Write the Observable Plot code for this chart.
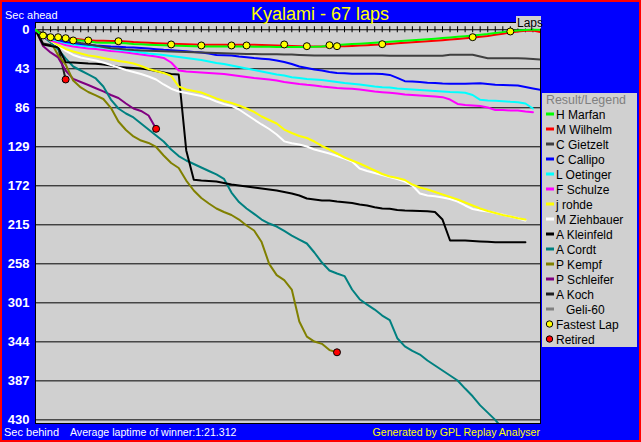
<!DOCTYPE html>
<html><head><meta charset="utf-8">
<script src="https://cdn.jsdelivr.net/npm/d3@7"></script>
<script src="https://cdn.jsdelivr.net/npm/@observablehq/plot@0.6"></script>
<style>
html,body{margin:0;padding:0;background:#0000ff;}
#chart svg{display:block;}
</style></head><body><div id="chart"></div>
<script>
// ---- data (seconds behind average pace of winner, per lap) ----
const drivers = ["H Marfan","M Wilhelm","C Gietzelt","C Callipo","L Oetinger","F Schulze","j rohde","M Ziehbauer","A Kleinfeld","A Cordt","P Kempf","P Schleifer","A Koch","Geli-60"];
const colors  = ["#00ff00","#ff0000","#404040","#0000ff","#00ffff","#ff00ff","#ffff00","#ffffff","#000000","#008080","#808000","#800080","#202020","#808080"];

const marfan = [0,7,8.5,9.5,10.3,10.9,11.8,12.7,14,14.2, 14.4,14.5,15,15.6,16,16.4,16.8,17.1,17.4,17.7, 18,18.3,18.5,18.5,18.5,18.5,18.5,18.5,18.5,18.6, 18.8,18.8,18.9,19,19,19,19,18.8,18.4,17.6, 16.8,16.2,15.8,15.3,14.8,14.3,13.8,13.3,12.7,12.1, 11.5,11,10.4,9.8,9.2,8.5,7.8,7.1,6.4,5.6, 4.8,3.7,2.6,1.6,0.8,0.2,-0.3,0];
const wilhelm = [0,6,7.5,8.5,9.3,9.9,10.8,11.7,12,12.2, 12.4,12.5,13,13.6,14,14.4,14.8,15.1,15.4,15.7, 16,16.3,16.5,16.5,16.5,16.5,16.5,16.5,16.5,16.6, 16.8,17,17.3,17.6,17.9,18.2,18.4,18.4,18.4,18.4, 18.3,18.1,17.8,17.4,17,16.6,16.2,15.6,15,14.4, 13.8,13.3,12.7,12.1,11.5,10.8,10.1,9.4,8.7,7.8, 6.8,5.6,4.3,3,2,1,0.8,2.6];
const gietzelt = [0,4,7,9,11,12.8,14.5,16,17.5,19, 20.3,21,21.8,22.4,22.8,23.1,23.4,23.7,24,24.3, 24.5,24.7,25,25.3,25.6,25.9,26.2,26.5,26.7,26.8, 26.9,27,27.1,27.2,27.4,27.7,28,28.3,28.3,28.3, 28.3,28.3,28.3,28.3,28.3,28.3,28.3,28.6,28.6,28.6, 28.6,28.6,28.6,28.6,28.6,27.6,27.6,27.6,27.6,29.5, 31.3,31.5,31.5,31.5,31.5,31.8,32.3,32.7];
const callipo = [0,6.3,8.5,11.2,13.5,14.6,15.7,16.5,17.3,17.9, 18.4,18.7,19.2,19.5,20.1,20.6,21.4,22.1,22.6,23.2, 23.7,24.5,25,26.1,27.8,28.1,28.3,29.4,30.3,31.2, 31.9,32.5,33.8,35.5,37.7,40.5,42.1,43.8,44.9,46.5, 47.6,47.9,48.5,48.5,48.5,48.5,48.7,49.8,53.1,56.7, 57,57.6,58.4,58.6,59.2,59.5,59.5,59.5,59.2,58.9, 59.8,60.6,60.9,61.2,61.4,63.1,64.7,66.2];
const oetinger = [0,6.8,9.9,12.3,14.6,16.2,17.3,18.4,19,19.5, 20.9,22.3,23,23.9,25,26.1,27,27.8,28.9,30, 31.1,32.2,33.3,35,36.6,37.7,39.4,41,42.7,44.3, 46,47.6,49.3,50.4,52.3,53.1,54.2,54.8,55.3,56.5, 57.6,58.7,59.5,60.3,61.4,62.5,63.3,63.6,64.7,65.3, 65.8,66.4,66.9,67.5,68,68.6,68.8,69.5,71.9,77.2, 78,78.3,78.7,79.4,79.8,81.3,86.8];
const schulze = [0,7.4,11.8,14,16.8,18.4,19.5,20.6,21.2,22.3, 23.4,23.9,25,26.1,27.2,28.3,29.4,31.1,36.1,44.9, 46,46.5,47.1,47.6,48.2,48.7,49.8,50.9,52,53.1, 54,54.8,55.9,57.6,58.7,59.8,60.7,61.4,62.5,63.3, 64.2,64.7,65.1,65.8,66.9,68,68.8,69.5,70.2,71.4, 71.9,72.4,73,73.5,74.3,76.9,81.8,82.9,83.5,84, 85.7,88.4,88.4,89,89,90.1,90.9];
const rohde = [0,5.2,11.8,16.8,21.2,23.9,26.1,28.3,29.4,31.1, 32.7,34.4,35.5,37.2,39.9,43.3,45.4,47.6,50.9,62.5, 65.8,67.5,69.1,72.4,75.7,78.5,80.7,83.5,86.8,90.6, 95.6,99.5,103.3,110,113.8,117.1,119.3,123.2,128.1,132, 136.4,140.8,144.1,147.4,151.3,155.1,159,161.8,163.4,165.6, 170.6,173.9,176.1,178.8,181.6,184.4,187.1,190.4,193.7,197, 199.8,202,204.2,205.9,207.7,209.2];
const ziehbauer = [0,6.3,12.3,17.3,23.4,27.8,30.5,32.2,33.8,36.1, 38.8,41.6,44.3,46.5,48.7,51.5,54.8,60.3,65,68, 69.7,71.3,73,75.7,79.1,81.8,84,87.9,93.4,98.9, 104.4,109.4,115.4,123,125,126.5,128.7,132,134.2,136.4, 139.2,141.9,145.2,152.9,155.7,157.9,160.1,162.3,164.5,167.3, 171.7,180.5,182.7,183.5,184.9,186.6,189.3,193.7,197.6,199.3, 200.4,202,204,205.9,207.7,210.3];
const kleinfeld = [0,16.2,17.9,19.2,35.7,36.1,36.6,37.2,37.5,38.3, 39.4,41,41.6,42.1,42.7,43.8,45.4,47.1,48.7,49.3, 133,165.4,166.2,166.7,167.3,168.9,170.6,171.7,172.8,173.9, 175,176.1,177.2,178.8,180.5,182.7,186,187.1,188.2,188.2, 189.3,190.1,191,192.6,193.7,195.6,197,197.4,198.7,199.3, 199.6,199.8,200,200.9,209.2,232.3,232.3,232.3,232.9,233.4, 233.8,234.2,234.2,234.2,234.2,234.2];
const cordt = [0,7.4,14,21.7,31.6,40.5,44.9,49.3,53.7,62.5, 76.9,86.8,92.3,96.7,103.3,109.9,116.5,123.2,132,139.2, 144.1,148,151.8,155.7,159.5,164.3,179.4,189.9,197,202.9, 209.2,213.6,216.9,221.8,226.8,231.2,235.6,245.5,256.6,265.4, 268.7,271.5,286.3,297,303,308.4,315,320,340,349, 354,358,364.6,370.1,375.6,381.1,386.6,395.5,404,414, 422,430,440];
const kempf = [0,7.4,12.9,28,38.3,56,63.6,68.6,72.4,76.3, 86,101.1,110.5,117.6,122.1,124.8,129.2,138.6,146.9,152.4, 166.2,177.2,185.5,191.5,197,200.9,204.2,209.2,215.8,221.3, 234,258,270.4,275.9,286.3,321.6,338.2,343.7,346.2,353.1, 355.5];
const schleifer = [0,18,25,30.5,44.9,54.2,57.6,60.9,64.5,68, 71.9,75.2,81.3,86.8,89.5,94.5,109.2];
const koch = [0,15.1,16.8,19,54.8];
const geli = [];

const fastestLaps = [1,2,3,4,5,7,11,18,22,26,28,33,36,39,40,46,58,63];
const fastestVals = [6.3,8.2,8.2,9.3,11.8,11.8,12.6,16.2,17.3,17.3,17.3,16.2,18.1,17,18.1,15.9,8.2,1.9];
const retiredLaps = [4,16,40];
const retiredVals = [54.8,109.2,355.5];

const yTicks = [0,43,86,129,172,215,258,301,344,387,430];
const lapTicks = d3.range(1, 67);

const seriesValues = [marfan,wilhelm,gietzelt,callipo,oetinger,schulze,rohde,ziehbauer,kleinfeld,cordt,kempf,schleifer,koch,geli];
const FONT = "'Liberation Sans', Arial, Helvetica, sans-serif";

// ---- chart ----
const lineMarks = [];
for (let i = seriesValues.length - 1; i >= 0; i--) {
  const vals = seriesValues[i];
  if (!vals.length) continue;
  lineMarks.push(Plot.line(vals.map((v, lap) => ({lap, v})), {
    x: "lap", y: "v", stroke: colors[i], strokeWidth: 2, clip: true
  }));
}

const chart = Plot.plot({
  width: 641, height: 442,
  marginLeft: 35, marginRight: 101, marginTop: 22, marginBottom: 19,
  style: {background: "#0000ff", fontFamily: FONT, fontSize: "11px", overflow: "visible"},
  x: {domain: [0, 67], axis: null},
  y: {domain: [434, -8], axis: null},
  marks: [
    Plot.frame({fill: "#d0d0d0", stroke: "black"}),
    Plot.ruleY(yTicks, {stroke: "black", strokeWidth: 1}),
    Plot.ruleX(lapTicks, {x: d => d, y1: -3.3, y2: 3.3, stroke: "black", strokeWidth: 1}),
    Plot.text(yTicks, {y: d => d, text: d => String(d), frameAnchor: "left", dx: -6, textAnchor: "end",
      fill: "white", fontWeight: "bold", fontSize: 13, fontFamily: FONT}),
    ...lineMarks,
    Plot.dot(fastestLaps.map((l, i) => ({l, v: fastestVals[i]})), {x: "l", y: "v", r: 3.5, fill: "#ffff00", stroke: "black", strokeWidth: 1}),
    Plot.dot(retiredLaps.map((l, i) => ({l, v: retiredVals[i]})), {x: "l", y: "v", r: 3.5, fill: "#ff0000", stroke: "black", strokeWidth: 1})
  ]
});
document.getElementById("chart").appendChild(chart);

// ---- annotations & legend ----
const svg = d3.select(chart);
const txt = (parent, x, y, s, o = {}) => parent.append("text").attr("x", x).attr("y", y)
  .attr("font-family", FONT).attr("font-size", o.size || 11).attr("fill", o.fill || "white")
  .attr("text-anchor", o.anchor || "start").attr("font-weight", o.weight || "normal").text(s);

txt(svg, 320, 19.5, "Kyalami - 67 laps", {size: 18, fill: "#ffff00", anchor: "middle"});
txt(svg, 5, 19, "Sec ahead");
txt(svg, 4, 436, "Sec behind");
txt(svg, 70, 436, "Average laptime of winner:1:21.312", {size: 10.6});
txt(svg, 540, 436, "Generated by GPL Replay Analyser", {size: 10.6, fill: "#ffff00", anchor: "end"});

svg.append("rect").attr("x", 516).attr("y", 16).attr("width", 25).attr("height", 12.5).attr("fill", "#d0d0d0");
txt(svg, 517, 27, "Laps", {size: 12, fill: "black"});

const lg = svg.append("g");
lg.append("rect").attr("x", 542).attr("y", 93).attr("width", 95).attr("height", 254).attr("fill", "#d0d0d0");
txt(lg, 546, 104, "Result/Legend", {size: 12.4, fill: "#808080"});
drivers.forEach((d, i) => {
  const yc = 114 + 15 * i;
  lg.append("line").attr("x1", 546).attr("x2", 554).attr("y1", yc).attr("y2", yc)
    .attr("stroke", colors[i]).attr("stroke-width", 3);
  txt(lg, d === "Geli-60" ? 566 : 556, yc + 4.5, d, {size: 12, fill: "black"});
});
[["Fastest Lap", "#ffff00"], ["Retired", "#ff0000"]].forEach(([label, c], j) => {
  const yc = 114 + 15 * (drivers.length + j);
  lg.append("circle").attr("cx", 549.5).attr("cy", yc).attr("r", 3.2).attr("fill", c).attr("stroke", "black");
  txt(lg, 556, yc + 4.5, label, {size: 12, fill: "black"});
});

svg.append("rect").attr("x", 1).attr("y", 1).attr("width", 639).attr("height", 440)
  .attr("fill", "none").attr("stroke", "#ff0000").attr("stroke-width", 2);
</script></body></html>
